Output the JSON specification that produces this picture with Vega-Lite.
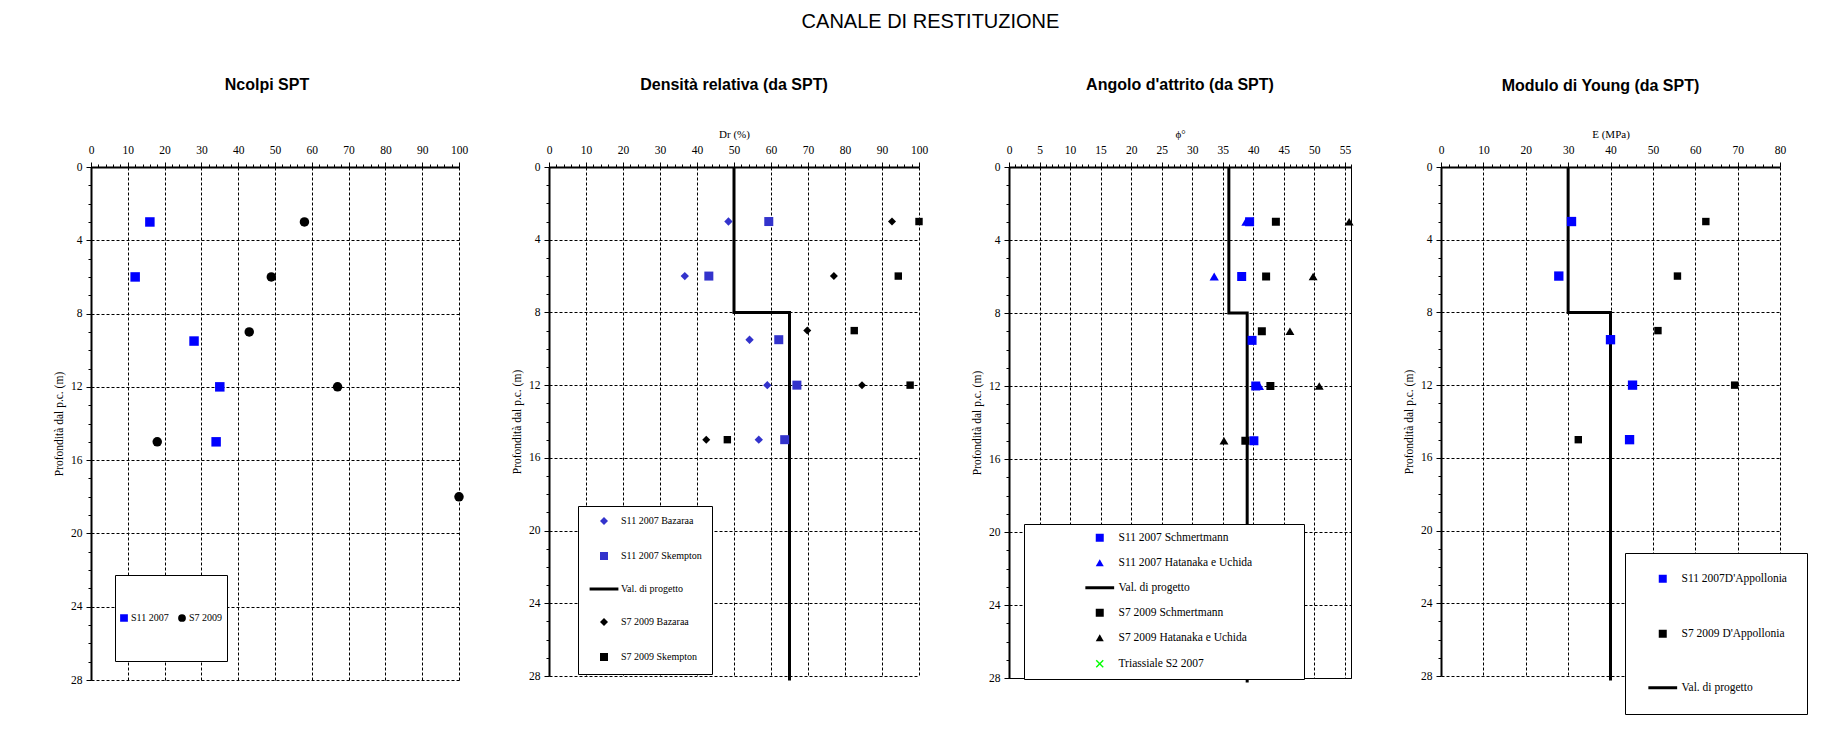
{
  "$schema": "https://vega.github.io/schema/vega-lite/v6.json",
  "background": "white",
  "padding": {"left": 53, "top": 11, "right": 5, "bottom": 5},
  "title": {"text": "CANALE DI RESTITUZIONE", "font": "Liberation Sans", "fontSize": 20, "fontWeight": "normal", "color": "black", "offset": 45, "anchor": "middle"},
  "datasets": {
    "ncolpi": [
      {"serie": "S11 2007", "x": 16, "depth": 3},
      {"serie": "S11 2007", "x": 12, "depth": 6},
      {"serie": "S11 2007", "x": 28, "depth": 9.5},
      {"serie": "S11 2007", "x": 35, "depth": 12},
      {"serie": "S11 2007", "x": 34, "depth": 15},
      {"serie": "S7 2009", "x": 58, "depth": 3},
      {"serie": "S7 2009", "x": 49, "depth": 6},
      {"serie": "S7 2009", "x": 43, "depth": 9},
      {"serie": "S7 2009", "x": 67, "depth": 12},
      {"serie": "S7 2009", "x": 18, "depth": 15},
      {"serie": "S7 2009", "x": 100, "depth": 18}
    ],
    "dr": [
      {"serie": "Val. di progetto", "x": 50, "depth": 0, "i": 1},
      {"serie": "Val. di progetto", "x": 50, "depth": 8, "i": 2},
      {"serie": "Val. di progetto", "x": 65, "depth": 8, "i": 3},
      {"serie": "Val. di progetto", "x": 65, "depth": 28.25, "i": 4},
      {"serie": "S11 2007 Bazaraa", "x": 48.5, "depth": 3},
      {"serie": "S11 2007 Bazaraa", "x": 36.7, "depth": 6},
      {"serie": "S11 2007 Bazaraa", "x": 54.2, "depth": 9.5},
      {"serie": "S11 2007 Bazaraa", "x": 59, "depth": 12},
      {"serie": "S11 2007 Bazaraa", "x": 56.7, "depth": 15},
      {"serie": "S11 2007 Skempton", "x": 59.4, "depth": 3},
      {"serie": "S11 2007 Skempton", "x": 43.2, "depth": 6},
      {"serie": "S11 2007 Skempton", "x": 62.1, "depth": 9.5},
      {"serie": "S11 2007 Skempton", "x": 67, "depth": 12},
      {"serie": "S11 2007 Skempton", "x": 63.7, "depth": 15},
      {"serie": "S7 2009 Bazaraa", "x": 92.7, "depth": 3},
      {"serie": "S7 2009 Bazaraa", "x": 77, "depth": 6},
      {"serie": "S7 2009 Bazaraa", "x": 69.8, "depth": 9},
      {"serie": "S7 2009 Bazaraa", "x": 84.6, "depth": 12},
      {"serie": "S7 2009 Bazaraa", "x": 42.5, "depth": 15},
      {"serie": "S7 2009 Skempton", "x": 100, "depth": 3},
      {"serie": "S7 2009 Skempton", "x": 94.4, "depth": 6},
      {"serie": "S7 2009 Skempton", "x": 82.5, "depth": 9},
      {"serie": "S7 2009 Skempton", "x": 97.6, "depth": 12},
      {"serie": "S7 2009 Skempton", "x": 48.2, "depth": 15}
    ],
    "phi": [
      {"serie": "Val. di progetto", "x": 36, "depth": 0, "i": 1},
      {"serie": "Val. di progetto", "x": 36, "depth": 8, "i": 2},
      {"serie": "Val. di progetto", "x": 39, "depth": 8, "i": 3},
      {"serie": "Val. di progetto", "x": 39, "depth": 28.25, "i": 4},
      {"serie": "S11 2007 Hatanaka e Uchida", "x": 38.8, "depth": 3},
      {"serie": "S11 2007 Hatanaka e Uchida", "x": 33.6, "depth": 6},
      {"serie": "S11 2007 Hatanaka e Uchida", "x": 41, "depth": 12},
      {"serie": "S11 2007 Schmertmann", "x": 39.4, "depth": 3},
      {"serie": "S11 2007 Schmertmann", "x": 38.1, "depth": 6},
      {"serie": "S11 2007 Schmertmann", "x": 39.8, "depth": 9.5},
      {"serie": "S11 2007 Schmertmann", "x": 40.4, "depth": 12},
      {"serie": "S11 2007 Schmertmann", "x": 40.1, "depth": 15},
      {"serie": "S7 2009 Schmertmann", "x": 43.7, "depth": 3},
      {"serie": "S7 2009 Schmertmann", "x": 42.1, "depth": 6},
      {"serie": "S7 2009 Schmertmann", "x": 41.4, "depth": 9},
      {"serie": "S7 2009 Schmertmann", "x": 42.8, "depth": 12},
      {"serie": "S7 2009 Schmertmann", "x": 38.7, "depth": 15},
      {"serie": "S7 2009 Hatanaka e Uchida", "x": 55.7, "depth": 3},
      {"serie": "S7 2009 Hatanaka e Uchida", "x": 49.8, "depth": 6},
      {"serie": "S7 2009 Hatanaka e Uchida", "x": 46, "depth": 9},
      {"serie": "S7 2009 Hatanaka e Uchida", "x": 50.8, "depth": 12},
      {"serie": "S7 2009 Hatanaka e Uchida", "x": 35.2, "depth": 15}
    ],
    "young": [
      {"serie": "Val. di progetto", "x": 30, "depth": 0, "i": 1},
      {"serie": "Val. di progetto", "x": 30, "depth": 8, "i": 2},
      {"serie": "Val. di progetto", "x": 40, "depth": 8, "i": 3},
      {"serie": "Val. di progetto", "x": 40, "depth": 28.25, "i": 4},
      {"serie": "S11 2007D'Appollonia", "x": 30.8, "depth": 3},
      {"serie": "S11 2007D'Appollonia", "x": 27.8, "depth": 6},
      {"serie": "S11 2007D'Appollonia", "x": 40, "depth": 9.5},
      {"serie": "S11 2007D'Appollonia", "x": 45.2, "depth": 12},
      {"serie": "S11 2007D'Appollonia", "x": 44.5, "depth": 15},
      {"serie": "S7 2009 D'Appollonia", "x": 62.5, "depth": 3},
      {"serie": "S7 2009 D'Appollonia", "x": 55.8, "depth": 6},
      {"serie": "S7 2009 D'Appollonia", "x": 51.2, "depth": 9},
      {"serie": "S7 2009 D'Appollonia", "x": 69.3, "depth": 12},
      {"serie": "S7 2009 D'Appollonia", "x": 32.4, "depth": 15}
    ]
  },
  "bounds": "flush",
  "spacing": 90,
  "resolve": {
    "scale": {"x": "independent", "y": "independent", "color": "independent", "shape": "independent", "size": "independent"},
    "legend": {"color": "independent", "shape": "independent"}
  },
  "hconcat": [
    {
      "width": 368, "height": 513,
      "title": {"text": "Ncolpi SPT", "offset": 51, "dx": -8},
      "data": {"name": "ncolpi"},
      "encoding": {
        "x": {"field": "x", "type": "quantitative", "scale": {"domain": [0, 100], "nice": false, "zero": false},
          "axis": {"orient": "top", "title": null, "values": [0,2,4,6,8,10,12,14,16,18,20,22,24,26,28,30,32,34,36,38,40,42,44,46,48,50,52,54,56,58,60,62,64,66,68,70,72,74,76,78,80,82,84,86,88,90,92,94,96,98,100],
            "format": "d",
            "labelExpr": "datum.value % 10 === 0 ? datum.label : ''",
            "tickSize": {"condition": {"test": "datum.value % 10 === 0", "value": 5}, "value": 3},
            "gridOpacity": {"condition": {"test": "datum.value % 10 === 0", "value": 1}, "value": 0},
            "labelPadding": 7}},
        "y": {"field": "depth", "type": "quantitative", "scale": {"domain": [0, 28], "nice": false, "zero": false, "reverse": true},
          "axis": {"title": "Profondità dal p.c. (m)", "values": [0,0.5,1,1.5,2,2.5,3,3.5,4,4.5,5,5.5,6,6.5,7,7.5,8,8.5,9,9.5,10,10.5,11,11.5,12,12.5,13,13.5,14,14.5,15,15.5,16,16.5,17,17.5,18,18.5,19,19.5,20,20.5,21,21.5,22,22.5,23,23.5,24,24.5,25,25.5,26,26.5,27,27.5,28],
            "format": "d",
            "labelExpr": "datum.value % 4 === 0 ? datum.label : ''",
            "tickSize": {"condition": {"test": "datum.value % 4 === 0", "value": 5}, "value": 3},
            "gridOpacity": {"condition": {"test": "datum.value % 4 === 0", "value": 1}, "value": 0},
            "labelPadding": 4, "titlePadding": 6}}
      },
      "layer": [
        {
          "mark": {"type": "point", "filled": true, "opacity": 1, "size": 90},
          "encoding": {
            "color": {"field": "serie", "type": "nominal", "scale": {"domain": ["S11 2007", "S7 2009"], "range": ["#0000FF", "#000000"]},
              "legend": {"title": null, "orient": "none", "legendX": 24, "legendY": 408, "direction": "horizontal", "columns": 2, "padding": 4, "symbolSize": 60, "labelFontSize": 10, "labelOffset": 2, "columnPadding": 8, "clipHeight": 78}},
            "shape": {"field": "serie", "type": "nominal", "scale": {"domain": ["S11 2007", "S7 2009"], "range": ["square", "circle"]},
              "legend": {"title": null, "orient": "none", "legendX": 24, "legendY": 408, "direction": "horizontal", "columns": 2, "padding": 4, "symbolSize": 60, "labelFontSize": 10, "labelOffset": 2, "columnPadding": 8, "clipHeight": 78}}
          }
        }
      ]
    },
    {
      "width": 370, "height": 509,
      "title": {"text": "Densità relativa (da SPT)", "offset": 35},
      "data": {"name": "dr"},
      "encoding": {
        "x": {"field": "x", "type": "quantitative", "scale": {"domain": [0, 100], "nice": false, "zero": false},
          "axis": {"orient": "top", "title": "Dr (%)", "titleFontSize": 11, "titlePadding": 5, "values": [0,2,4,6,8,10,12,14,16,18,20,22,24,26,28,30,32,34,36,38,40,42,44,46,48,50,52,54,56,58,60,62,64,66,68,70,72,74,76,78,80,82,84,86,88,90,92,94,96,98,100],
            "format": "d",
            "labelExpr": "datum.value % 10 === 0 ? datum.label : ''",
            "tickSize": {"condition": {"test": "datum.value % 10 === 0", "value": 5}, "value": 3},
            "gridOpacity": {"condition": {"test": "datum.value % 10 === 0", "value": 1}, "value": 0},
            "labelPadding": 7}},
        "y": {"field": "depth", "type": "quantitative", "scale": {"domain": [0, 28], "nice": false, "zero": false, "reverse": true},
          "axis": {"title": "Profondità dal p.c. (m)", "values": [0,0.5,1,1.5,2,2.5,3,3.5,4,4.5,5,5.5,6,6.5,7,7.5,8,8.5,9,9.5,10,10.5,11,11.5,12,12.5,13,13.5,14,14.5,15,15.5,16,16.5,17,17.5,18,18.5,19,19.5,20,20.5,21,21.5,22,22.5,23,23.5,24,24.5,25,25.5,26,26.5,27,27.5,28],
            "format": "d",
            "labelExpr": "datum.value % 4 === 0 ? datum.label : ''",
            "tickSize": {"condition": {"test": "datum.value % 4 === 0", "value": 5}, "value": 3},
            "gridOpacity": {"condition": {"test": "datum.value % 4 === 0", "value": 1}, "value": 0},
            "labelPadding": 4, "titlePadding": 6}}
      },
      "layer": [
        {
          "transform": [{"filter": "datum.serie === 'Val. di progetto'"}],
          "mark": {"type": "line", "color": "black", "strokeWidth": 3},
          "encoding": {"order": {"field": "i", "type": "quantitative"}}
        },
        {
          "transform": [{"filter": "datum.serie !== 'Val. di progetto'"}],
          "mark": {"type": "point", "filled": true, "opacity": 1},
          "encoding": {
            "size": {"condition": [
              {"test": "datum.serie === 'S11 2007 Bazaraa'", "value": 70},
              {"test": "datum.serie === 'S11 2007 Skempton'", "value": 81},
              {"test": "datum.serie === 'S7 2009 Bazaraa'", "value": 64}], "value": 55},
            "color": {"field": "serie", "type": "nominal",
              "scale": {"domain": ["S11 2007 Bazaraa", "S11 2007 Skempton", "Val. di progetto", "S7 2009 Bazaraa", "S7 2009 Skempton"], "range": ["#3333CC", "#3333CC", "#000000", "#000000", "#000000"]},
              "legend": {"title": null, "orient": "none", "legendX": 29, "legendY": 339, "padding": 10, "symbolSize": 64, "symbolOffset": 11, "labelOffset": 12, "labelFontSize": 10, "rowPadding": 21}},
            "shape": {"field": "serie", "type": "nominal",
              "scale": {"domain": ["S11 2007 Bazaraa", "S11 2007 Skempton", "Val. di progetto", "S7 2009 Bazaraa", "S7 2009 Skempton"], "range": ["diamond", "square", "M-3.6,-0.375L3.6,-0.375L3.6,0.375L-3.6,0.375Z", "diamond", "square"]},
              "legend": {"title": null, "orient": "none", "legendX": 29, "legendY": 339, "padding": 10, "symbolSize": 64, "symbolOffset": 11, "labelOffset": 12, "labelFontSize": 10, "rowPadding": 21}}
          }
        }
      ]
    },
    {
      "width": 342, "height": 511,
      "view": {"stroke": "black", "strokeWidth": 1},
      "title": {"text": "Angolo d'attrito (da SPT)", "offset": 35},
      "data": {"name": "phi"},
      "encoding": {
        "x": {"field": "x", "type": "quantitative", "scale": {"domain": [0, 56], "nice": false, "zero": false},
          "axis": {"orient": "top", "title": "ϕ°", "titleFontSize": 11, "titlePadding": 5, "values": [0,1,2,3,4,5,6,7,8,9,10,11,12,13,14,15,16,17,18,19,20,21,22,23,24,25,26,27,28,29,30,31,32,33,34,35,36,37,38,39,40,41,42,43,44,45,46,47,48,49,50,51,52,53,54,55,56],
            "format": "d",
            "labelExpr": "datum.value % 5 === 0 ? datum.label : ''",
            "tickSize": {"condition": {"test": "datum.value % 5 === 0", "value": 5}, "value": 3},
            "gridOpacity": {"condition": {"test": "datum.value % 5 === 0", "value": 1}, "value": 0},
            "labelPadding": 7}},
        "y": {"field": "depth", "type": "quantitative", "scale": {"domain": [0, 28], "nice": false, "zero": false, "reverse": true},
          "axis": {"title": "Profondità dal p.c. (m)", "values": [0,0.5,1,1.5,2,2.5,3,3.5,4,4.5,5,5.5,6,6.5,7,7.5,8,8.5,9,9.5,10,10.5,11,11.5,12,12.5,13,13.5,14,14.5,15,15.5,16,16.5,17,17.5,18,18.5,19,19.5,20,20.5,21,21.5,22,22.5,23,23.5,24,24.5,25,25.5,26,26.5,27,27.5,28],
            "format": "d",
            "labelExpr": "datum.value % 4 === 0 ? datum.label : ''",
            "tickSize": {"condition": {"test": "datum.value % 4 === 0", "value": 5}, "value": 3},
            "gridOpacity": {"condition": {"test": "datum.value % 4 === 0", "value": 1}, "value": 0},
            "labelPadding": 4, "titlePadding": 6}}
      },
      "layer": [
        {
          "transform": [{"filter": "datum.serie === 'Val. di progetto'"}],
          "mark": {"type": "line", "color": "black", "strokeWidth": 3},
          "encoding": {"order": {"field": "i", "type": "quantitative"}}
        },
        {
          "transform": [{"filter": "datum.serie !== 'Val. di progetto'"}],
          "mark": {"type": "point", "filled": true, "opacity": 1},
          "encoding": {
            "size": {"condition": [
              {"test": "datum.serie === 'S11 2007 Schmertmann'", "value": 81},
              {"test": "datum.serie === 'S11 2007 Hatanaka e Uchida'", "value": 86},
              {"test": "datum.serie === 'S7 2009 Hatanaka e Uchida'", "value": 80}], "value": 64},
            "color": {"field": "serie", "type": "nominal",
              "scale": {"domain": ["S11 2007 Schmertmann", "S11 2007 Hatanaka e Uchida", "Val. di progetto", "S7 2009 Schmertmann", "S7 2009 Hatanaka e Uchida", "Triassiale S2 2007"], "range": ["#0000FF", "#0000FF", "#000000", "#000000", "#000000", "#00FF00"]},
              "legend": {"title": " ", "titleOrient": "right", "titleFontSize": 2, "titlePadding": 44, "orient": "none", "legendX": 15, "legendY": 357, "padding": 8, "symbolSize": 64, "symbolOffset": 62, "labelOffset": 13, "labelFontSize": 11.5, "rowPadding": 11}},
            "shape": {"field": "serie", "type": "nominal",
              "scale": {"domain": ["S11 2007 Schmertmann", "S11 2007 Hatanaka e Uchida", "Val. di progetto", "S7 2009 Schmertmann", "S7 2009 Hatanaka e Uchida", "Triassiale S2 2007"], "range": ["square", "triangle-up", "M-3.6,-0.375L3.6,-0.375L3.6,0.375L-3.6,0.375Z", "square", "triangle-up", "M-1,-0.75L-0.75,-1L0,-0.25L0.75,-1L1,-0.75L0.25,0L1,0.75L0.75,1L0,0.25L-0.75,1L-1,0.75L-0.25,0Z"]},
              "legend": {"title": " ", "titleOrient": "right", "titleFontSize": 2, "titlePadding": 44, "orient": "none", "legendX": 15, "legendY": 357, "padding": 8, "symbolSize": 64, "symbolOffset": 62, "labelOffset": 13, "labelFontSize": 11.5, "rowPadding": 11}}
          }
        }
      ]
    },
    {
      "width": 339, "height": 509,
      "title": {"text": "Modulo di Young (da SPT)", "offset": 34, "dx": -10},
      "data": {"name": "young"},
      "encoding": {
        "x": {"field": "x", "type": "quantitative", "scale": {"domain": [0, 80], "nice": false, "zero": false},
          "axis": {"orient": "top", "title": "E (MPa)", "titleFontSize": 11, "titlePadding": 5, "values": [0,2,4,6,8,10,12,14,16,18,20,22,24,26,28,30,32,34,36,38,40,42,44,46,48,50,52,54,56,58,60,62,64,66,68,70,72,74,76,78,80],
            "format": "d",
            "labelExpr": "datum.value % 10 === 0 ? datum.label : ''",
            "tickSize": {"condition": {"test": "datum.value % 10 === 0", "value": 5}, "value": 3},
            "gridOpacity": {"condition": {"test": "datum.value % 10 === 0", "value": 1}, "value": 0},
            "labelPadding": 7}},
        "y": {"field": "depth", "type": "quantitative", "scale": {"domain": [0, 28], "nice": false, "zero": false, "reverse": true},
          "axis": {"title": "Profondità dal p.c. (m)", "values": [0,0.5,1,1.5,2,2.5,3,3.5,4,4.5,5,5.5,6,6.5,7,7.5,8,8.5,9,9.5,10,10.5,11,11.5,12,12.5,13,13.5,14,14.5,15,15.5,16,16.5,17,17.5,18,18.5,19,19.5,20,20.5,21,21.5,22,22.5,23,23.5,24,24.5,25,25.5,26,26.5,27,27.5,28],
            "format": "d",
            "labelExpr": "datum.value % 4 === 0 ? datum.label : ''",
            "tickSize": {"condition": {"test": "datum.value % 4 === 0", "value": 5}, "value": 3},
            "gridOpacity": {"condition": {"test": "datum.value % 4 === 0", "value": 1}, "value": 0},
            "labelPadding": 4, "titlePadding": 6}}
      },
      "layer": [
        {
          "transform": [{"filter": "datum.serie === 'Val. di progetto'"}],
          "mark": {"type": "line", "color": "black", "strokeWidth": 3},
          "encoding": {"order": {"field": "i", "type": "quantitative"}}
        },
        {
          "transform": [{"filter": "datum.serie !== 'Val. di progetto'"}],
          "mark": {"type": "point", "filled": true, "opacity": 1},
          "encoding": {
            "size": {"condition": {"test": "datum.serie === 'S11 2007D\\'Appollonia'", "value": 87}, "value": 55},
            "color": {"field": "serie", "type": "nominal",
              "scale": {"domain": ["S11 2007D'Appollonia", "S7 2009 D'Appollonia", "Val. di progetto"], "range": ["#0000FF", "#000000", "#000000"]},
              "legend": {"title": null, "orient": "none", "legendX": 184, "legendY": 386, "padding": 20, "symbolSize": 64, "symbolOffset": 12, "labelOffset": 13, "labelFontSize": 11.5, "rowPadding": 40}},
            "shape": {"field": "serie", "type": "nominal",
              "scale": {"domain": ["S11 2007D'Appollonia", "S7 2009 D'Appollonia", "Val. di progetto"], "range": ["square", "square", "M-3.6,-0.375L3.6,-0.375L3.6,0.375L-3.6,0.375Z"]},
              "legend": {"title": null, "orient": "none", "legendX": 184, "legendY": 386, "padding": 20, "symbolSize": 64, "symbolOffset": 12, "labelOffset": 13, "labelFontSize": 11.5, "rowPadding": 40}}
          }
        }
      ]
    }
  ],
  "config": {
    "view": {"stroke": null},
    "title": {"font": "Liberation Sans", "fontSize": 16, "fontWeight": "bold", "color": "black", "anchor": "middle"},
    "axis": {"labelFont": "Liberation Serif", "labelFontSize": 11.5, "labelColor": "black", "titleFont": "Liberation Serif", "titleFontSize": 11.5, "titleFontWeight": "normal", "titleColor": "black", "domainColor": "black", "domainWidth": 2, "tickColor": "black", "tickWidth": 1, "gridColor": "black", "gridDash": [3, 2], "gridWidth": 1, "labelOverlap": false, "labelFlush": false},
    "legend": {"labelFont": "Liberation Serif", "labelColor": "black", "strokeColor": "black", "strokeWidth": 1, "fillColor": "white", "symbolOpacity": 1, "labelLimit": 400}
  }
}
